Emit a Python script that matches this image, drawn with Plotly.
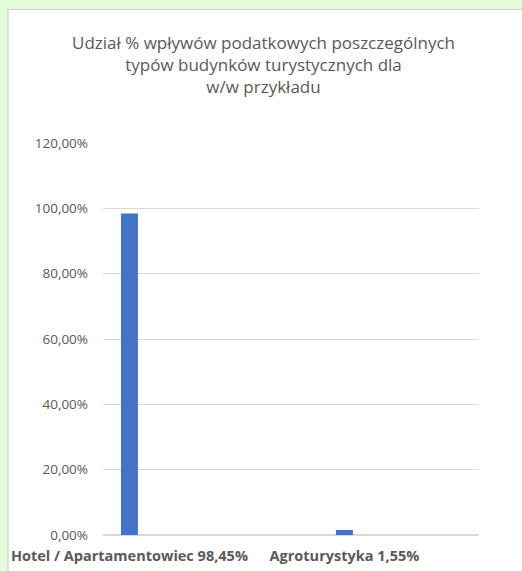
import plotly.graph_objects as go

categories = ["Hotel / Apartamentowiec 98,45%", "Agroturystyka 1,55%"]
values = [0.9845, 0.0155]
title_lines = ["Udział % wpływów podatkowych poszczególnych",
               "typów budynków turystycznych dla",
               "w/w przykładu"]

W, H = 522, 571
L, R, T, B = 103, 43, 143, 36

fig = go.Figure(go.Bar(
    x=categories, y=values, marker_color="#4472C4", width=0.079,
    marker_line_width=0, hoverinfo="skip"))

pw = W - L - R
ph = H - T - B
fig.add_shape(type="rect", xref="paper", yref="paper", layer="below",
              x0=(8 - L) / pw, x1=(W + 10 - L) / pw,
              y0=-(H + 10 - T - ph) / ph, y1=(H - B - 9.5) / ph,
              fillcolor="white", line=dict(color="#D0D0D0", width=1.2))

fig.add_annotation(text="<br>".join(title_lines), xref="paper", yref="paper",
                   x=(263 - L) / pw, y=(H - B - 64.5) / ph,
                   xanchor="center", yanchor="middle", align="center",
                   showarrow=False,
                   font=dict(size=17, color="#595959", family="Open Sans"))

fig.update_layout(
    width=W, height=H,
    margin=dict(l=L, r=R, t=T, b=B, pad=0, autoexpand=False),
    paper_bgcolor="#E4FCD9",
    plot_bgcolor="rgba(0,0,0,0)",
    separators=",.",
    showlegend=False,
    font=dict(family="Open Sans", color="#595959"),
    xaxis=dict(type="category", range=[-0.123, 1.626], showgrid=False,
               showline=False, ticks="", zeroline=False, automargin=False,
               tickfont=dict(size=14.5, color="#595959", family="Open Sans", weight="bold"),
               ticklabelstandoff=10),
    yaxis=dict(range=[0, 1.2], dtick=0.2, tickformat=".2%", showgrid=True,
               gridcolor="#D9D9D9", gridwidth=1, zeroline=True, automargin=False,
               zerolinecolor="#D9D9D9", zerolinewidth=1.5, showline=False,
               ticks="", tickfont=dict(size=13.5, color="#595959", family="Open Sans"),
               ticklabelstandoff=14),
)

fig.write_html("out.html", config={"displayModeBar": False},
               post_script="document.body.style.margin='0px';"
                           "document.body.style.overflow='hidden';"
                           "document.body.style.background='#E4FCD9';")
